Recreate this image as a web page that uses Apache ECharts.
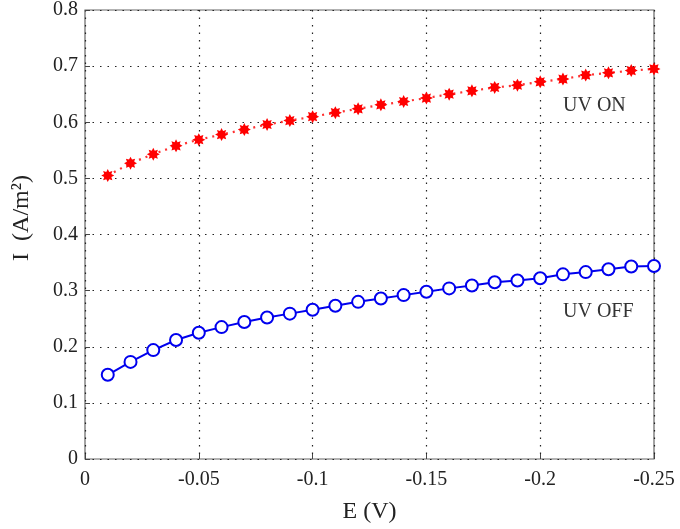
<!DOCTYPE html>
<html>
<head>
<meta charset="utf-8">
<script src="https://cdn.jsdelivr.net/npm/echarts@6/dist/echarts.min.js"></script>
<style>html,body{margin:0;padding:0;background:#fff}#c{width:680px;height:529px}</style>
</head>
<body>
<div id="c"></div>
<script>
const E = [-0.01,-0.02,-0.03,-0.04,-0.05,-0.06,-0.07,-0.08,-0.09,-0.10,-0.11,-0.12,-0.13,-0.14,-0.15,-0.16,-0.17,-0.18,-0.19,-0.20,-0.21,-0.22,-0.23,-0.24,-0.25];
const uvOn = [0.505,0.527,0.543,0.558,0.569,0.578,0.587,0.596,0.603,0.610,0.617,0.624,0.631,0.637,0.643,0.650,0.656,0.662,0.666,0.672,0.677,0.684,0.688,0.692,0.695];
const uvOff = [0.150,0.173,0.194,0.212,0.225,0.235,0.244,0.252,0.259,0.266,0.273,0.280,0.286,0.292,0.298,0.304,0.309,0.315,0.318,0.322,0.329,0.333,0.338,0.343,0.344];
const labelOn = 'UV ON';
const labelOff = 'UV OFF';
const xTitle = 'E (V)';
const yTitle = 'I  (A/m²)';

function starPath(n, r1, r2) {
  let d = '';
  for (let i = 0; i < 2 * n; i++) {
    const r = i % 2 === 0 ? r1 : r2;
    const a = Math.PI * i / n - Math.PI / 2;
    d += (i === 0 ? 'M' : 'L') + (r * Math.cos(a)).toFixed(3) + ' ' + (r * Math.sin(a)).toFixed(3) + ' ';
  }
  return 'path://' + d + 'Z';
}
const fmt = v => v === 0 ? '0' : String(+v.toFixed(2));
const serif = '"Liberation Serif", "DejaVu Serif", serif';

const chart = echarts.init(document.getElementById('c'));
chart.setOption({
  animation: false,
  grid: { left: 85, right: 26, top: 10, bottom: 70, show: true, borderColor: '#666', borderWidth: 1.2 },
  xAxis: {
    type: 'value', min: -0.25, max: 0, interval: 0.05, inverse: true,
    name: xTitle, nameLocation: 'middle', nameGap: 41,
    nameTextStyle: { fontFamily: serif, fontSize: 24, color: '#222' },
    axisLine: { show: false },
    axisTick: { inside: true, length: 5, lineStyle: { color: '#444' } },
    axisLabel: { formatter: fmt, fontFamily: serif, fontSize: 20, color: '#222', margin: 11 },
    splitLine: { show: true, lineStyle: { color: '#222', type: [1.5, 6], width: 1.2 } }
  },
  yAxis: {
    type: 'value', min: 0, max: 0.8, interval: 0.1,
    axisLine: { show: false },
    axisTick: { inside: true, length: 5, lineStyle: { color: '#444' } },
    axisLabel: { formatter: fmt, fontFamily: serif, fontSize: 20, color: '#222', margin: 7 },
    splitLine: { show: true, lineStyle: { color: '#222', type: [1.5, 6], width: 1.2 } }
  },
  series: [
    {
      type: 'line', name: labelOn,
      data: E.map((x, i) => [x, uvOn[i]]),
      symbol: starPath(8, 1, 0.6), symbolSize: 13,
      itemStyle: { color: '#ff0000' },
      lineStyle: { color: '#ff3030', width: 2.2, type: [2, 5] },
      z: 3
    },
    {
      type: 'line', name: labelOff,
      data: E.map((x, i) => [x, uvOff[i]]),
      symbol: 'emptyCircle', symbolSize: 12,
      itemStyle: { color: '#0000ee', borderWidth: 2.6 },
      lineStyle: { color: '#0000ee', width: 2 },
      z: 3
    }
  ],
  graphic: [
    { type: 'text', left: 563, top: 96, style: { text: labelOn, font: '20px ' + serif, fill: '#333' } },
    { type: 'text', left: 563, top: 302, style: { text: labelOff, font: '20px ' + serif, fill: '#333' } },
    { type: 'text', x: 22, y: 218, rotation: Math.PI / 2,
      style: { text: yTitle, font: '24px ' + serif, fill: '#222', align: 'center', verticalAlign: 'middle' } }
  ]
});
</script>
</body>
</html>
